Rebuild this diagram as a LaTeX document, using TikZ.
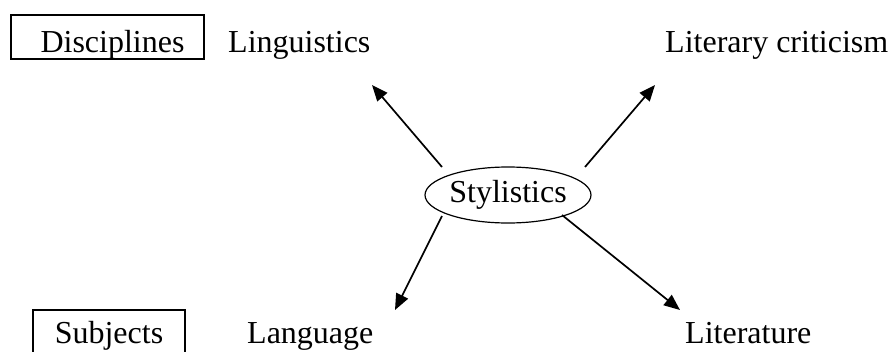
\documentclass[tikz,border=0pt]{standalone}
\usepackage{fontspec}
\setmainfont{Liberation Serif}
\usepackage{tikz}
\usetikzlibrary{arrows.meta,shapes.geometric,positioning}
\tikzset{
  caja/.style={draw,line width=1.2pt,inner sep=0pt,anchor=base,text height=37pt,text depth=7pt},
  etiq/.style={anchor=base west,inner sep=0pt},
  ovalo/.style={ellipse,draw,line width=1.2pt,inner sep=0pt,minimum width=156pt,minimum height=56pt},
  flecha/.style={-{Triangle[length=16pt,width=13pt]},line width=1.7pt}
}

\begin{document}
\begin{tikzpicture}[x=1pt,y=-1pt,font=\fontsize{32}{38}\selectfont]
\useasboundingbox (0,0) rectangle (889,351);
% cajas de la izquierda
\node[caja,minimum width=193pt] (disc) at (107.5,52) {\hspace*{10pt}Disciplines};
\node[caja,minimum width=152pt,text height=33pt,text depth=12pt] (subj) at (109,343) {Subjects};
% etiquetas
\node[etiq] (ling) at (228,52) {Linguistics};
\node[etiq] (crit) at (665,52) {Literary criticism};
\node[etiq] (leng) at (247,343) {Language};
\node[etiq] (lit) at (685,343) {Literature};
\node[ovalo] (esti) at (508,195) {Stylistics};
% extremos de las flechas
\coordinate (a1) at (442,167); \coordinate (b1) at (372,85);
\coordinate (a2) at (585,167); \coordinate (b2) at (655,85);
\coordinate (a3) at (442,216); \coordinate (b3) at (395,310);
\coordinate (a4) at (562,215); \coordinate (b4) at (680,310);
\draw[flecha] (a1)--(b1);
\draw[flecha] (a2)--(b2);
\draw[flecha] (a3)--(b3);
\draw[flecha] (a4)--(b4);
\end{tikzpicture}
\end{document}
